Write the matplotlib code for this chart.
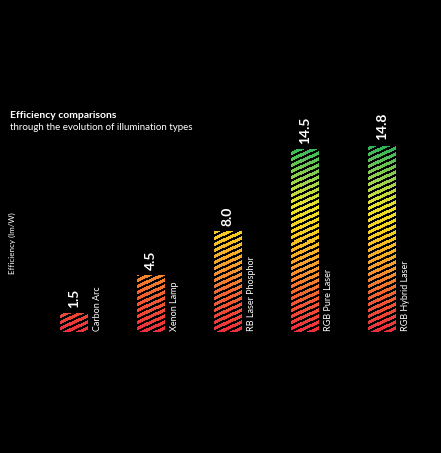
import numpy as np
import matplotlib.pyplot as plt
from matplotlib.colors import LinearSegmentedColormap

plt.rcParams['font.family'] = ['Lato', 'DejaVu Sans']

# data
categories = ["Carbon Arc", "Xenon Lamp", "RB Laser Phosphor", "RGB Pure Laser", "RGB Hybrid Laser"]
values = [1.5, 4.5, 8.0, 14.5, 14.8]
value_labels = ["1.5", "4.5", "8.0", "14.5", "14.8"]

YMAX = 16.0
BARW = 0.36

# gradient by absolute efficiency (red low -> green high)
stops = [(0.0, "#ec2d3c"), (3.0, "#f26230"), (5.0, "#f5982c"), (8.0, "#f8cf1e"),
         (10.0, "#e8e22a"), (12.0, "#9cd24c"), (14.8, "#2db55a")]
cmap = LinearSegmentedColormap.from_list("eff", [(v / 14.8, c) for v, c in stops])

fig = plt.figure(figsize=(4.41, 4.53), dpi=100, facecolor="black")
ax = fig.add_axes([35.5 / 441, 121 / 453, 385 / 441, 201 / 453])
ax.set_facecolor("black")
ax.set_xlim(-0.5, len(categories) - 0.5)
ax.set_ylim(0, YMAX)
ax.axis("off")

fig.canvas.draw()
for i, (v, lab, cat) in enumerate(zip(values, value_labels, categories)):
    x0, x1 = i - BARW / 2, i + BARW / 2
    (px0, py0), (px1, py1) = ax.transData.transform([(x0, 0), (x1, v)])
    w = max(int(round(px1 - px0)), 1)
    h = max(int(round(py1 - py0)), 1)
    yy, xx = np.mgrid[0:h, 0:w]
    # value of each row (row 0 = top)
    rowval = v * (1 - (yy + 0.5) / h)
    rgba = cmap(np.clip(rowval / 14.8, 0, 1))
    # diagonal stripes rising to the right, in pixel space
    up = (h - yy) + 0.0
    phase = (up - 0.45 * xx) % 6.0
    stripe = phase < 2.5
    rgba[stripe] = (0, 0, 0, 1)
    ax.imshow(rgba, extent=(x0, x1, 0, v), aspect="auto", interpolation="nearest", zorder=2)

    ax.text(i, v + 0.45, lab, rotation=90, ha="center", va="bottom", color="white",
            fontsize=10, fontweight="bold", clip_on=False)
    ax.text(x1 + 0.07, 0.1, cat, rotation=90, ha="left", va="bottom", color="white",
            fontsize=6.5, clip_on=False)

ax.set_xlim(-0.5, len(categories) - 0.5)
ax.set_ylim(0, YMAX)

fig.text(10 / 441, 1 - 115 / 453, "Efficiency comparisons", color="white", fontsize=7.5,
         fontweight="bold", ha="left", va="center")
fig.text(10 / 441, 1 - 128 / 453, "through the evolution of illumination types", color="white",
         fontsize=7.0, ha="left", va="center")
fig.text(12 / 441, 1 - 243 / 453, "Efficiency (lm/W)", color="white", fontsize=5.8,
         rotation=90, ha="center", va="center")

fig.savefig("out.png", dpi=100, facecolor="black")
